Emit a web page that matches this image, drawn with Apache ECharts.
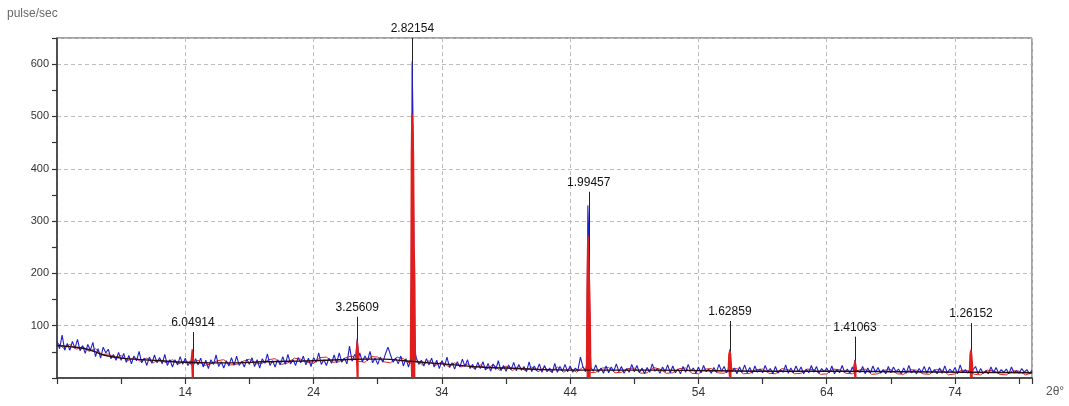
<!DOCTYPE html>
<html>
<head>
<meta charset="utf-8">
<script src="https://cdn.jsdelivr.net/npm/echarts@6/dist/echarts.min.js"></script>
<style>
  html, body { margin: 0; padding: 0; background: #fff; }
  #chart { width: 1069px; height: 406px; }
</style>
</head>
<body>
<div id="chart"></div>
<script>
// raw counts (blue), 2theta 4..80 step 0.2, one row per degree
var blueStart = 4, blueStep = 0.2;
var blueValues = [
  70, 56, 82, 53, 66,   53, 70, 57, 74, 52,   62, 47, 64, 53, 68,   41, 56, 38, 59, 48,
  55, 37, 45, 34, 49,   34, 47, 30, 43, 27,   42, 33, 51, 29, 38,   24, 40, 28, 44, 29,
  39, 27, 45, 24, 35,   21, 35, 25, 41, 26,   38, 24, 33, 22, 37,   25, 38, 21, 34, 18,
  35, 26, 44, 22, 31,   19, 33, 23, 39, 24,   42, 24, 32, 21, 36,   26, 39, 22, 35, 19,
  37, 28, 46, 24, 33,   21, 35, 25, 41, 26,   45, 27, 35, 24, 39,   29, 42, 25, 38, 22,
  39, 30, 48, 26, 35,   24, 38, 28, 44, 29,   48, 30, 38, 27, 61,   32, 45, 28, 48, 31,
  42, 33, 51, 29, 38,   26, 40, 30, 46, 59,   44, 30, 38, 27, 42,   23, 37, 21, 30, 28,
  39, 26, 34, 23, 37,   25, 38, 21, 34, 18,   33, 22, 40, 20, 29,   17, 31, 21, 36, 22,
  35, 18, 26, 16, 30,   18, 31, 15, 28, 13,   27, 16, 33, 14, 24,   13, 25, 16, 30, 14,
  26, 15, 22, 12, 31,   12, 23, 14, 27, 11,   24, 12, 19, 10, 28,   11, 22, 13, 26, 12,
  23, 11, 19, 14, 40,   21, 12, 24, 18, 13,   25, 11, 19, 9, 23,    10, 21, 13, 27, 12,
  22, 9, 18, 11, 26,    12, 24, 10, 19, 8,    20, 11, 27, 13, 18,   9, 21, 12, 25, 10,
  23, 10, 17, 8, 22,    11, 26, 13, 19, 9,    21, 10, 24, 12, 17,   9, 20, 11, 26, 13,
  22, 10, 17, 12, 19,   8, 21, 11, 25, 10,    20, 9, 23, 11, 17,    10, 24, 12, 18, 8,
  22, 9, 16, 11, 25,    9, 19, 10, 23, 12,    21, 8, 17, 10, 24,    11, 22, 9, 18, 12,
  19, 10, 23, 8, 16,    10, 24, 11, 17, 9,    21, 9, 18, 11, 22,    8, 19, 10, 23, 11,
  20, 9, 16, 8, 22,     10, 21, 12, 17, 8,    19, 9, 24, 10, 15,    8, 18, 11, 22, 9,
  21, 10, 16, 8, 19,    9, 23, 10, 17, 11,    20, 8, 25, 10, 16,    9, 19, 11, 22, 8,
  18, 9, 14, 8, 21,     10, 20, 9, 16, 11,    17, 8, 21, 10, 14,    9, 18, 11, 16, 8,
  15
];
var bluePeaks = [
  [[14.45, 26], [14.55, 45], [14.65, 25]],
  [[27.3, 40], [27.4, 75], [27.5, 38]],
  [[31.6, 40], [31.68, 605], [31.76, 480], [31.85, 60]],
  [[45.3, 30], [45.38, 330], [45.46, 270], [45.55, 60], [45.62, 20]],
  [[56.35, 18], [56.45, 55], [56.55, 17]],
  [[66.1, 14], [66.2, 35], [66.3, 15]],
  [[75.15, 16], [75.25, 50], [75.35, 14]]
];

// processed counts (red), step 0.5
var redStart = 4, redStep = 0.5;
var redValues = [
  68, 57, 64, 55, 60, 51, 56, 45, 46, 39, 43, 33, 39, 32, 38, 29,
  36, 29, 35, 27, 33, 26, 34, 24, 27, 33, 35, 25, 26, 32, 36, 27,
  28, 35, 37, 26, 29, 38, 36, 30, 28, 39, 40, 30, 31, 39, 42, 32,
  30, 41, 40, 31, 29, 40, 37, 28, 35, 25, 33, 24, 31, 22, 29, 21,
  27, 18, 25, 17, 26, 15, 23, 14, 22, 14, 21, 12, 20, 12, 21, 11,
  19, 11, 21, 10, 11, 19, 20, 10, 11, 18, 19, 9, 10, 20, 17, 9,
  10, 18, 19, 9, 8, 17, 18, 10, 9, 17, 18, 8, 9, 16, 17, 9,
  8, 18, 16, 8, 9, 17, 16, 7, 8, 17, 16, 9, 8, 15, 17, 7,
  8, 15, 16, 8, 7, 16, 15, 8, 7, 16, 15, 6, 8, 15, 14, 7,
  6, 15, 14, 7, 6, 14, 13, 6, 10
];
var redPeaks = [
  [[14.45, 30], [14.5, 42], [14.55, 55], [14.6, 40], [14.68, 30]],
  [[27.3, 36], [27.35, 55], [27.4, 70], [27.45, 58], [27.52, 37]],
  [[31.56, 33], [31.6, 200], [31.63, 430], [31.67, 505], [31.73, 505], [31.78, 430], [31.83, 250], [31.88, 190], [31.93, 33]],
  [[45.28, 16], [45.33, 180], [45.38, 272], [45.45, 272], [45.5, 180], [45.55, 120], [45.6, 16]],
  [[56.33, 14], [56.38, 45], [56.45, 52], [56.5, 45], [56.58, 14]],
  [[66.1, 13], [66.15, 25], [66.2, 33], [66.25, 25], [66.32, 13]],
  [[75.13, 12], [75.18, 45], [75.25, 54], [75.3, 42], [75.38, 12]]
];
var stickX = [14.55, 27.4, 31.72];
var stickTop = [32, 36, 33];

// background
var bgX = [4, 5, 6, 6.5, 7, 7.5, 8, 9, 10, 12, 14, 16, 18, 20, 22, 24, 26, 28, 29.5, 31, 33, 35, 37, 39, 42, 46, 50, 55, 60, 65, 70, 75, 80];
var bgY = [62, 60, 57, 54, 50, 45, 42, 38, 36, 33, 30, 29, 29, 31, 32, 33, 35, 36, 36, 33, 29, 25, 21, 19, 16, 15, 15, 14, 13, 13, 12, 11, 10];

// peak markers (d-spacing)
var peakX = [14.6, 27.4, 31.7, 45.45, 56.45, 66.2, 75.25];
var peakTop = [88, 117, 650, 356, 109, 79, 105];
var peakLabels = ['6.04914', '3.25609', '2.82154', '1.99457', '1.62859', '1.41063', '1.26152'];

var xTickLabels = [14, 24, 34, 44, 54, 64, 74];

function buildSeries(start, step, values, peaks) {
  var pts = values.map(function (v, i) { return [+(start + i * step).toFixed(2), v]; });
  peaks.forEach(function (pk) {
    var lo = pk[0][0], hi = pk[pk.length - 1][0];
    pts = pts.filter(function (p) { return p[0] < lo || p[0] > hi; }).concat(pk);
  });
  pts.sort(function (a, b) { return a[0] - b[0]; });
  return pts;
}

var blueData = buildSeries(blueStart, blueStep, blueValues, bluePeaks);
var redData = buildSeries(redStart, redStep, redValues, []);
var redPeakData = [];
redPeaks.forEach(function (pk, i) {
  if (i > 0) redPeakData.push('-');
  redPeakData = redPeakData.concat(pk);
});
var bgData = bgX.map(function (x, i) { return [x, bgY[i]]; });

var fontFam = '"Liberation Sans", Arial, sans-serif';
var gridDash = { color: '#bdbdbd', type: [4, 3], width: 1 };

var option = {
  animation: false,
  grid: { left: 57, right: 37, top: 38, bottom: 28, show: true, borderColor: '#444', borderWidth: 1, backgroundColor: 'transparent' },
  graphic: [
    { type: 'text', left: 7, top: 8, style: { text: 'pulse/sec', fill: '#666', font: '12px ' + fontFam } },
    { type: 'text', left: 1046, top: 386, style: { text: '2θ°', fill: '#555', font: '12px ' + fontFam } }
  ],
  xAxis: [{
    type: 'value', min: 4, max: 80, interval: 10,
    axisLine: { lineStyle: { color: '#333', width: 1.5 } },
    axisTick: { show: false },
    axisLabel: {
      showMinLabel: false, showMaxLabel: false, color: '#333', fontSize: 12, fontFamily: fontFam, margin: 9,
      formatter: function (v) { return xTickLabels.indexOf(Math.round(v)) >= 0 ? String(Math.round(v)) : ''; }
    },
    splitLine: { show: true, lineStyle: gridDash }
  }, {
    type: 'value', min: 4, max: 80, interval: 5, position: 'bottom',
    axisLine: { show: false },
    axisTick: { show: true, length: 6, lineStyle: { color: '#333', width: 1.2 } },
    axisLabel: { show: false },
    splitLine: { show: false }
  }],
  yAxis: [{
    type: 'value', min: 0, max: 650, interval: 100,
    axisLine: { show: true, lineStyle: { color: '#333', width: 1.5 } },
    axisTick: { show: false },
    axisLabel: { showMinLabel: false, showMaxLabel: false, color: '#333', fontSize: 11, fontFamily: fontFam, margin: 8 },
    splitLine: { show: true, lineStyle: gridDash }
  }, {
    type: 'value', min: 0, max: 650, interval: 50, position: 'left',
    axisLine: { show: false },
    axisTick: { show: true, length: 5, lineStyle: { color: '#333', width: 1.2 } },
    axisLabel: { show: false },
    splitLine: { show: false }
  }],
  series: [{
    name: 'markers', type: 'line', data: [], symbol: 'none', z: 1,
    markLine: {
      silent: true, symbol: ['none', 'none'], animation: false, z: 1,
      lineStyle: { color: '#222', width: 1, type: 'solid' },
      label: {
        show: true, position: 'end', distance: 3, color: '#111', fontSize: 12, fontFamily: fontFam,
        formatter: function (p) { return peakLabels[p.dataIndex]; }
      },
      data: peakX.map(function (x, i) { return [{ coord: [x, 20] }, { coord: [x, peakTop[i]] }]; })
    }
  }, {
    name: 'red', type: 'line', data: redData, symbol: 'none', z: 2,
    lineStyle: { color: '#d42a2a', width: 1 }
  }, {
    name: 'raw', type: 'line', data: blueData, symbol: 'none', z: 3,
    lineStyle: { color: '#2020c8', width: 1.1 }
  }, {
    name: 'redPeaks', type: 'line', data: redPeakData, symbol: 'none', z: 4, connectNulls: false,
    lineStyle: { color: '#e01e1e', width: 1.6 },
    areaStyle: { color: '#e01e1e', opacity: 1 },
    markLine: {
      silent: true, symbol: ['none', 'none'], animation: false, z: 4,
      lineStyle: { color: '#d83030', width: 1, type: 'solid' },
      label: { show: false },
      data: stickX.map(function (x, i) { return [{ coord: [x, 0] }, { coord: [x, stickTop[i]] }]; })
    }
  }, {
    name: 'background', type: 'line', data: bgData, symbol: 'none', smooth: true, z: 5,
    lineStyle: { color: '#2a0c10', width: 1.4 }
  }]
};

var myChart = echarts.init(document.getElementById('chart'));
myChart.setOption(option);
</script>
</body>
</html>
